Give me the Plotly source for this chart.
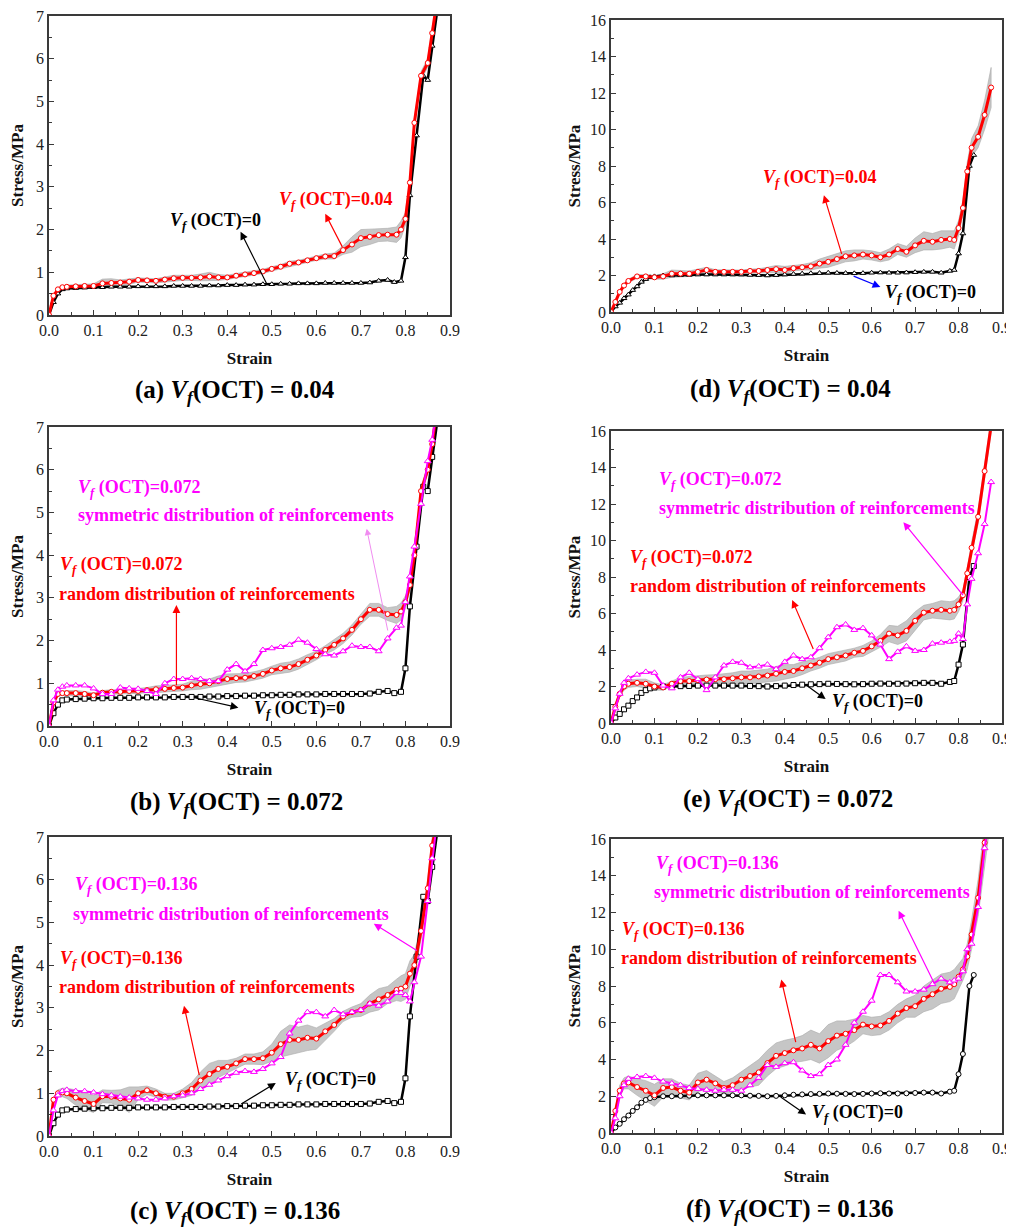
import plotly.graph_objects as go

# ---------------- data ----------------
X_TICKS = [0.0, 0.1, 0.2, 0.3, 0.4, 0.5, 0.6, 0.7, 0.8, 0.9]
Y_TICKS_7 = [0, 1, 2, 3, 4, 5, 6, 7]
Y_TICKS_16 = [0, 2, 4, 6, 8, 10, 12, 14, 16]

STRAIN_7 = [0, 0.01, 0.02, 0.03, 0.04,
            0.06, 0.08, 0.10, 0.12, 0.14, 0.16, 0.18, 0.20, 0.22, 0.24,
            0.26, 0.28, 0.30, 0.32, 0.34, 0.36, 0.38, 0.40, 0.42, 0.44,
            0.46, 0.48, 0.50, 0.52, 0.54, 0.56, 0.58, 0.60, 0.62, 0.64,
            0.66, 0.68, 0.70, 0.72, 0.74, 0.76, 0.78,
            0.79, 0.80, 0.81, 0.82, 0.835, 0.85, 0.86, 0.87]
STRAIN_16 = [0, 0.01, 0.02, 0.03, 0.04,
             0.06, 0.08, 0.10, 0.12, 0.14, 0.16, 0.18, 0.20, 0.22, 0.24,
             0.26, 0.28, 0.30, 0.32, 0.34, 0.36, 0.38, 0.40, 0.42, 0.44,
             0.46, 0.48, 0.50, 0.52, 0.54, 0.56, 0.58, 0.60, 0.62, 0.64,
             0.66, 0.68, 0.70, 0.72, 0.74, 0.76, 0.78,
             0.79, 0.80, 0.81, 0.82, 0.83, 0.845, 0.86, 0.875]

# Vf(OCT)=0 reference curves
ZERO_STRAIN_7 = [0, 0.01, 0.02, 0.03, 0.04,
                 0.06, 0.08, 0.10, 0.12, 0.14, 0.16, 0.18, 0.20, 0.22, 0.24,
                 0.26, 0.28, 0.30, 0.32, 0.34, 0.36, 0.38, 0.40, 0.42, 0.44,
                 0.46, 0.48, 0.50, 0.52, 0.54, 0.56, 0.58, 0.60, 0.62, 0.64,
                 0.66, 0.68, 0.70, 0.72, 0.74, 0.76,
                 0.775, 0.79, 0.80, 0.81, 0.825, 0.84, 0.85, 0.86, 0.875]
ZERO_STRESS_7 = [0, 0.30, 0.50, 0.60, 0.62,
                 0.63, 0.64, 0.65, 0.65, 0.66, 0.66, 0.66, 0.67, 0.67, 0.67,
                 0.67, 0.68, 0.68, 0.68, 0.68, 0.69, 0.69, 0.70, 0.70, 0.71,
                 0.71, 0.72, 0.72, 0.73, 0.73, 0.74, 0.74, 0.74, 0.75, 0.75,
                 0.75, 0.75, 0.75, 0.76, 0.80, 0.82,
                 0.77, 0.80, 1.35, 2.80, 4.20, 5.60, 5.50, 6.30, 7.40]
ZERO_STRAIN_16 = [0, 0.01, 0.02, 0.03, 0.04, 0.05, 0.06, 0.07, 0.08, 0.09, 0.10,
                  0.12, 0.14, 0.16, 0.18, 0.20, 0.22, 0.24, 0.26, 0.28, 0.30,
                  0.32, 0.34, 0.36, 0.38, 0.40, 0.42, 0.44, 0.46, 0.48, 0.50,
                  0.52, 0.54, 0.56, 0.58, 0.60, 0.62, 0.64, 0.66, 0.68, 0.70,
                  0.72, 0.74, 0.76, 0.78,
                  0.79, 0.80, 0.81, 0.825, 0.835]
ZERO_STRESS_16 = [0, 0.30, 0.50, 0.75, 0.95, 1.20, 1.40, 1.65, 1.80, 1.90, 1.95,
                  2.00, 2.00, 2.02, 2.03, 2.05, 2.05, 2.05, 2.05, 2.05, 2.05,
                  2.03, 2.02, 2.00, 2.02, 2.05, 2.08, 2.10, 2.12, 2.13, 2.15,
                  2.14, 2.13, 2.12, 2.13, 2.15, 2.16, 2.15, 2.15, 2.16, 2.18,
                  2.20, 2.20, 2.15, 2.25,
                  2.30, 3.20, 4.30, 8.00, 8.60]

# (a) Vf(OCT)=0.04, 7 MPa scale
A_RANDOM = [0, 0.45, 0.60, 0.65, 0.66,
            0.67, 0.68, 0.68, 0.74, 0.75, 0.76, 0.78, 0.82, 0.81, 0.80,
            0.83, 0.86, 0.87, 0.87, 0.88, 0.90, 0.88, 0.88, 0.92, 0.95,
            0.98, 1.02, 1.08, 1.13, 1.20, 1.23, 1.28, 1.33, 1.37, 1.38,
            1.52, 1.65, 1.80, 1.83, 1.87, 1.88, 1.88,
            2.00, 2.25, 3.10, 4.50, 5.60, 5.90, 6.60, 7.30]
A_SD = [0, 0.03, 0.04, 0.04, 0.04,
        0.04, 0.04, 0.05, 0.10, 0.10, 0.06, 0.06, 0.05, 0.05, 0.05,
        0.06, 0.07, 0.06, 0.06, 0.08, 0.10, 0.07, 0.05, 0.05, 0.05,
        0.05, 0.05, 0.05, 0.05, 0.06, 0.05, 0.05, 0.05, 0.06, 0.07,
        0.10, 0.18, 0.20, 0.18, 0.15, 0.15, 0.18,
        0.20, 0.15, 0.10, 0.10, 0.10, 0.10, 0.10, 0.10]

# (b) Vf(OCT)=0.072, 7 MPa scale
B_RANDOM = [0, 0.55, 0.75, 0.77, 0.77,
            0.77, 0.75, 0.72, 0.78, 0.80, 0.80, 0.82, 0.82, 0.84, 0.86,
            0.87, 0.89, 0.90, 0.95, 0.98, 1.00, 1.05, 1.10, 1.12, 1.13,
            1.17, 1.22, 1.30, 1.35, 1.38, 1.45, 1.55, 1.65, 1.78, 1.90,
            2.05, 2.25, 2.50, 2.72, 2.72, 2.62, 2.60,
            2.68, 2.90, 3.30, 4.00, 5.50, 6.00, 6.60, 7.40]
B_SD = [0, 0.03, 0.05, 0.05, 0.06,
        0.06, 0.06, 0.05, 0.05, 0.05, 0.05, 0.06, 0.06, 0.06, 0.08,
        0.08, 0.08, 0.08, 0.10, 0.12, 0.10, 0.12, 0.12, 0.10, 0.10,
        0.10, 0.10, 0.10, 0.12, 0.12, 0.12, 0.12, 0.10, 0.10, 0.12,
        0.12, 0.12, 0.12, 0.15, 0.15, 0.15, 0.20,
        0.20, 0.15, 0.12, 0.10, 0.10, 0.10, 0.10, 0.10]
B_SYM = [0, 0.60, 0.85, 0.92, 0.95,
         0.95, 0.95, 0.88, 0.75, 0.75, 0.90, 0.88, 0.87, 0.82, 0.75,
         1.00, 1.10, 1.10, 1.12, 1.10, 1.05, 1.05, 1.32, 1.45, 1.28,
         1.45, 1.78, 1.82, 1.85, 1.90, 2.02, 1.95, 1.80, 1.68, 1.65,
         1.75, 1.88, 1.85, 1.85, 1.75, 2.05, 2.30,
         2.35, 2.90, 3.50, 4.20, 5.20, 6.20, 6.70, 7.40]

# (c) Vf(OCT)=0.136, 7 MPa scale
C_RANDOM = [0, 0.85, 1.00, 1.02, 1.00,
            0.90, 0.82, 0.75, 0.93, 0.92, 0.88, 0.85, 1.00, 1.07, 1.00,
            0.92, 0.92, 1.00, 1.10, 1.30, 1.45, 1.57, 1.62, 1.70, 1.80,
            1.80, 1.82, 1.95, 2.15, 2.25, 2.25, 2.30, 2.28, 2.45, 2.60,
            2.80, 2.90, 2.95, 3.10, 3.20, 3.30, 3.42,
            3.45, 3.50, 3.80, 4.00, 4.80, 5.80, 6.80, 7.30]
C_SD = [0, 0.05, 0.08, 0.10, 0.12,
        0.18, 0.20, 0.20, 0.15, 0.15, 0.20, 0.30, 0.15, 0.10, 0.10,
        0.08, 0.08, 0.10, 0.15, 0.20, 0.25, 0.20, 0.15, 0.12, 0.12,
        0.12, 0.15, 0.20, 0.30, 0.35, 0.30, 0.30, 0.25, 0.20, 0.15,
        0.12, 0.12, 0.15, 0.20, 0.25, 0.20, 0.25,
        0.30, 0.30, 0.30, 0.25, 0.20, 0.20, 0.20, 0.20]
C_SYM = [0, 0.60, 0.95, 1.05, 1.08,
         1.05, 1.05, 1.02, 0.98, 0.95, 0.92, 0.90, 0.88, 0.85, 0.85,
         0.88, 0.93, 0.95, 1.00, 1.10, 1.20, 1.30, 1.40, 1.48, 1.52,
         1.50, 1.57, 1.70, 1.85, 2.40, 2.70, 2.90, 2.90, 2.80, 2.95,
         2.85, 2.90, 2.95, 3.10, 3.05, 3.15, 3.35,
         3.35, 3.30, 3.15, 3.60, 4.20, 5.50, 6.50, 7.30]

# (d) Vf(OCT)=0.04, 16 MPa scale
D_RANDOM = [0, 0.55, 1.10, 1.45, 1.70,
            1.95, 1.95, 1.90, 1.95, 2.10, 2.10, 2.10, 2.20, 2.30, 2.20,
            2.20, 2.20, 2.20, 2.25, 2.25, 2.30, 2.35, 2.30, 2.40, 2.45,
            2.50, 2.65, 2.75, 2.90, 3.05, 3.10, 3.15, 3.10, 3.00, 3.15,
            3.45, 3.30, 3.65, 3.90, 3.85, 3.95, 4.00,
            3.95, 4.60, 5.70, 7.70, 9.00, 9.60, 10.80, 12.30]
D_SD = [0, 0.05, 0.10, 0.10, 0.10,
        0.10, 0.10, 0.10, 0.15, 0.20, 0.18, 0.15, 0.15, 0.15, 0.12,
        0.10, 0.10, 0.10, 0.10, 0.12, 0.15, 0.20, 0.20, 0.15, 0.15,
        0.20, 0.25, 0.30, 0.30, 0.30, 0.30, 0.25, 0.25, 0.25, 0.30,
        0.30, 0.30, 0.40, 0.50, 0.45, 0.50, 0.45,
        0.50, 0.40, 0.40, 0.50, 0.50, 0.60, 0.80, 1.10]

# (e) Vf(OCT)=0.072, 16 MPa scale
E_RANDOM = [0, 0.90, 1.60, 2.00, 2.15,
            2.20, 2.15, 2.00, 1.95, 2.15, 2.30, 2.30, 2.35, 2.38, 2.40,
            2.40, 2.45, 2.50, 2.50, 2.55, 2.60, 2.70, 2.80, 2.85, 3.00,
            3.15, 3.30, 3.50, 3.60, 3.70, 3.85, 3.95, 4.20, 4.50, 4.90,
            4.80, 5.05, 5.60, 6.05, 6.15, 6.20, 6.15,
            6.20, 6.50, 7.00, 8.20, 9.60, 11.30, 13.80, 16.30]
E_SD = [0, 0.10, 0.15, 0.20, 0.20,
        0.20, 0.25, 0.20, 0.15, 0.15, 0.20, 0.25, 0.25, 0.25, 0.25,
        0.30, 0.30, 0.35, 0.35, 0.35, 0.35, 0.40, 0.40, 0.35, 0.35,
        0.30, 0.30, 0.30, 0.30, 0.30, 0.25, 0.30, 0.30, 0.35, 0.45,
        0.50, 0.55, 0.50, 0.40, 0.40, 0.50, 0.50,
        0.50, 0.40, 0.30, 0.30, 0.30, 0.40, 0.40, 0.40]
E_SYM = [0, 0.80, 1.60, 2.20, 2.45,
         2.65, 2.80, 2.75, 2.05, 1.90, 2.50, 2.75, 2.40, 1.80, 2.50,
         3.15, 3.35, 3.30, 3.05, 3.10, 3.20, 2.95, 3.35, 3.70, 3.50,
         3.60, 4.10, 4.70, 5.25, 5.40, 5.10, 5.20, 4.80, 4.30, 3.50,
         3.90, 4.20, 3.95, 4.00, 4.35, 4.40, 4.45,
         4.50, 4.90, 4.60, 6.50, 7.90, 9.30, 10.90, 13.20]

# (f) Vf(OCT)=0.136, 16 MPa scale
F_RANDOM = [0, 1.20, 2.30, 2.70, 2.75,
            2.50, 2.30, 2.05, 2.45, 2.50, 2.30, 2.20, 2.75, 2.90, 2.70,
            2.45, 2.60, 2.90, 3.10, 3.30, 3.80, 4.20, 4.35, 4.50, 4.60,
            4.80, 4.60, 5.00, 5.30, 5.40, 5.60, 5.90, 5.80, 5.85, 6.10,
            6.50, 6.80, 6.90, 7.30, 7.55, 7.85, 7.95,
            8.10, 8.50, 8.90, 9.60, 10.80, 12.80, 15.80, 18.50]
F_SD = [0, 0.20, 0.30, 0.30, 0.35,
        0.45, 0.55, 0.60, 0.50, 0.45, 0.40, 0.40, 0.50, 0.50, 0.40,
        0.35, 0.40, 0.45, 0.60, 0.70, 0.70, 0.70, 0.70, 0.65, 0.70,
        0.80, 0.80, 0.90, 0.80, 0.70, 0.60, 0.50, 0.50, 0.50, 0.50,
        0.50, 0.50, 0.60, 0.70, 0.80, 0.80, 0.80,
        0.80, 0.70, 0.60, 0.70, 0.80, 1.00, 1.20, 1.30]
F_SYM = [0, 0.80, 2.00, 2.60, 2.95,
         3.05, 3.10, 3.00, 2.80, 2.70, 2.60, 2.45, 2.40, 2.35, 2.30,
         2.35, 2.35, 2.30, 2.60, 3.00, 3.70, 3.60, 3.80, 3.85, 3.40,
         3.10, 3.20, 3.70, 4.00, 4.80, 6.00, 6.60, 7.20, 8.60, 8.60,
         8.20, 7.70, 7.70, 7.80, 8.10, 8.40, 8.20,
         8.30, 8.40, 8.80, 10.00, 10.30, 12.30, 15.50, 18.00]

for arr in [A_RANDOM, A_SD, B_RANDOM, B_SD, B_SYM, C_RANDOM, C_SD, C_SYM]:
    assert len(arr) == len(STRAIN_7)
for arr in [D_RANDOM, D_SD, E_RANDOM, E_SD, E_SYM, F_RANDOM, F_SD, F_SYM]:
    assert len(arr) == len(STRAIN_16)
assert len(ZERO_STRAIN_7) == len(ZERO_STRESS_7)
assert len(ZERO_STRAIN_16) == len(ZERO_STRESS_16)

# ---------------- styling ----------------
SERIF = "Liberation Serif, Times New Roman, serif"
RED = "#ff0000"
MAG = "#ff00ff"
FRAME = "#3a3a3a"

# the page body has an 8 px margin: work in page pixels and convert
OFF = 8
FW, FH = 1006, 1219


def px(x):
    return (x - OFF) / FW


def py(y):
    return 1 - (y - OFF) / FH


LEFT_X = [px(49), px(450)]
RIGHT_X = [px(611), px(1002)]

panels = [
    dict(n=1, xd=LEFT_X, yd=(16, 315), ymax=7, s=STRAIN_7, r=A_RANDOM, sd=A_SD, sym=None,
         zs=ZERO_STRAIN_7, zv=ZERO_STRESS_7, zm="triangle-up", letter="a", val="0.04"),
    dict(n=2, xd=LEFT_X, yd=(427, 726), ymax=7, s=STRAIN_7, r=B_RANDOM, sd=B_SD, sym=B_SYM,
         zs=ZERO_STRAIN_7, zv=ZERO_STRESS_7, zm="square", letter="b", val="0.072"),
    dict(n=3, xd=LEFT_X, yd=(837, 1136), ymax=7, s=STRAIN_7, r=C_RANDOM, sd=C_SD, sym=C_SYM,
         zs=ZERO_STRAIN_7, zv=ZERO_STRESS_7, zm="square", letter="c", val="0.136"),
    dict(n=4, xd=RIGHT_X, yd=(20, 312), ymax=16, s=STRAIN_16, r=D_RANDOM, sd=D_SD, sym=None,
         zs=ZERO_STRAIN_16, zv=ZERO_STRESS_16, zm="triangle-up", letter="d", val="0.04"),
    dict(n=5, xd=RIGHT_X, yd=(431, 723), ymax=16, s=STRAIN_16, r=E_RANDOM, sd=E_SD, sym=E_SYM,
         zs=ZERO_STRAIN_16, zv=ZERO_STRESS_16, zm="square", letter="e", val="0.072"),
    dict(n=6, xd=RIGHT_X, yd=(839, 1133), ymax=16, s=STRAIN_16, r=F_RANDOM, sd=F_SD, sym=F_SYM,
         zs=ZERO_STRAIN_16, zv=ZERO_STRESS_16, zm="circle", letter="f", val="0.136"),
]

fig = go.Figure()
layout = {}


def ref(n):
    return ("x" if n == 1 else f"x{n}"), ("y" if n == 1 else f"y{n}")


for p in panels:
    n = p["n"]
    xr, yr = ref(n)
    s = p["s"]
    upper = [m + d for m, d in zip(p["r"], p["sd"])]
    lower = [m - d for m, d in zip(p["r"], p["sd"])]
    fig.add_trace(go.Scatter(x=s + s[::-1], y=upper + lower[::-1], fill="toself",
                             fillcolor="#c6c6c6", line=dict(color="#a9a9a9", width=0.6),
                             mode="lines", hoverinfo="skip", showlegend=False,
                             xaxis=xr, yaxis=yr))
    fig.add_trace(go.Scatter(x=p["zs"], y=p["zv"], mode="lines+markers",
                             line=dict(color="black", width=2.5),
                             marker=dict(symbol=p["zm"], size=5, color="white",
                                         line=dict(color="black", width=1)),
                             showlegend=False, xaxis=xr, yaxis=yr))
    fig.add_trace(go.Scatter(x=s, y=p["r"], mode="lines+markers",
                             line=dict(color=RED, width=3),
                             marker=dict(symbol="circle", size=5, color="white",
                                         line=dict(color=RED, width=1)),
                             showlegend=False, xaxis=xr, yaxis=yr))
    if p["sym"] is not None:
        fig.add_trace(go.Scatter(x=s, y=p["sym"], mode="lines+markers",
                                 line=dict(color=MAG, width=2),
                                 marker=dict(symbol="triangle-up", size=6, color="white",
                                             line=dict(color=MAG, width=1)),
                                 showlegend=False, xaxis=xr, yaxis=yr))

    xkey = "xaxis" if n == 1 else f"xaxis{n}"
    ykey = "yaxis" if n == 1 else f"yaxis{n}"
    ytop, ybot = p["yd"]
    yticks = Y_TICKS_7 if p["ymax"] == 7 else Y_TICKS_16
    layout[xkey] = dict(
        domain=p["xd"], anchor=yr, range=[0, 0.9], tickvals=X_TICKS,
        ticktext=[f"{v:.1f}" for v in X_TICKS],
        ticks="inside", ticklen=5, tickwidth=1, tickcolor=FRAME,
        minor=dict(ticks="inside", ticklen=3, dtick=0.05, tickcolor=FRAME),
        showline=True, mirror=True, linecolor=FRAME, linewidth=1.5,
        showgrid=False, zeroline=False, ticklabeloverflow="allow",
        tickfont=dict(family=SERIF, size=16, color="#222"),
        title=dict(text="<b>Strain</b>", standoff=14,
                   font=dict(family=SERIF, size=17, color="#111")),
        automargin=False,
    )
    layout[ykey] = dict(
        domain=[py(ybot), py(ytop)], anchor=xr, range=[0, p["ymax"]],
        tickvals=yticks, ticks="inside", ticklen=5, tickwidth=1, tickcolor=FRAME,
        minor=dict(ticks="inside", ticklen=3, dtick=(0.5 if p["ymax"] == 7 else 1),
                   tickcolor=FRAME),
        showline=True, mirror=True, linecolor=FRAME, linewidth=1.5,
        showgrid=False, zeroline=False, ticklabeloverflow="allow",
        tickfont=dict(family=SERIF, size=16, color="#222"),
        title=dict(text="<b>Stress/MPa</b>", standoff=(9 if p["ymax"] == 7 else 5),
                   font=dict(family=SERIF, size=17, color="#111")),
        automargin=False,
    )

VF = "<i>V</i><sub><i>f</i></sub>"
annotations = []


def label(n, x, y, text, color):
    xr, yr = ref(n)
    annotations.append(dict(xref=xr, yref=yr, x=x, y=y, text=f"<b>{text}</b>",
                            showarrow=False, xanchor="left", yanchor="middle",
                            font=dict(family=SERIF, size=18, color=color)))


def arrow(n, tail, head, color, width=1.2):
    xr, yr = ref(n)
    annotations.append(dict(xref=xr, yref=yr, axref=xr, ayref=yr,
                            x=head[0], y=head[1], ax=tail[0], ay=tail[1],
                            text="", showarrow=True, arrowhead=2, arrowsize=1.3,
                            arrowwidth=width, arrowcolor=color))


SYM_TXT = "symmetric distribution of reinforcements"
RND_TXT = "random distribution of reinforcements"

# (a)
label(1, 0.512, 2.69, f"{VF} (OCT)=0.04", RED)
label(1, 0.267, 2.18, f"{VF} (OCT)=0", "black")
arrow(1, (0.66, 1.56), (0.62, 2.37), RED)
arrow(1, (0.49, 0.70), (0.43, 1.95), "black")
# (b)
label(2, 0.061, 5.56, f"{VF} (OCT)=0.072", MAG)
label(2, 0.061, 4.93, SYM_TXT, MAG)
label(2, 0.020, 3.75, f"{VF} (OCT)=0.072", RED)
label(2, 0.018, 3.10, RND_TXT, RED)
label(2, 0.455, 0.39, f"{VF} (OCT)=0", "black")
arrow(2, (0.286, 0.92), (0.286, 2.83), RED)
arrow(2, (0.761, 2.20), (0.713, 4.62), "#f08cf0", 1)
arrow(2, (0.323, 0.67), (0.425, 0.43), "black")
# (c)
label(3, 0.054, 5.87, f"{VF} (OCT)=0.136", MAG)
label(3, 0.050, 5.20, SYM_TXT, MAG)
label(3, 0.020, 4.13, f"{VF} (OCT)=0.136", RED)
label(3, 0.018, 3.48, RND_TXT, RED)
label(3, 0.526, 1.31, f"{VF} (OCT)=0", "black")
arrow(3, (0.338, 1.39), (0.303, 3.05), RED)
arrow(3, (0.829, 4.32), (0.729, 4.97), MAG)
arrow(3, (0.428, 0.73), (0.509, 1.24), "black")
# (d)
label(4, 0.346, 7.34, f"{VF} (OCT)=0.04", RED)
label(4, 0.627, 1.04, f"{VF} (OCT)=0", "black")
arrow(4, (0.532, 3.10), (0.49, 6.40), RED)
arrow(4, (0.555, 2.00), (0.62, 1.37), "blue")
# (e)
label(5, 0.105, 13.3, f"{VF} (OCT)=0.072", MAG)
label(5, 0.105, 11.8, SYM_TXT, MAG)
label(5, 0.040, 9.0, f"{VF} (OCT)=0.072", RED)
label(5, 0.038, 7.5, RND_TXT, RED)
label(5, 0.505, 1.13, f"{VF} (OCT)=0", "black")
arrow(5, (0.467, 3.97), (0.417, 6.74), RED)
arrow(5, (0.813, 6.92), (0.673, 11.0), MAG)
arrow(5, (0.448, 2.10), (0.494, 1.31), "black")
# (f)
label(6, 0.099, 14.63, f"{VF} (OCT)=0.136", MAG)
label(6, 0.095, 13.14, SYM_TXT, MAG)
label(6, 0.021, 11.0, f"{VF} (OCT)=0.136", RED)
label(6, 0.019, 9.5, RND_TXT, RED)
label(6, 0.458, 1.07, f"{VF} (OCT)=0", "black")
arrow(6, (0.426, 4.86), (0.392, 8.35), RED)
arrow(6, (0.746, 8.05), (0.662, 12.1), MAG)
arrow(6, (0.387, 2.02), (0.449, 1.00), "black")

# captions (page pixel centres)
CAPTION_POS = {"a": (235, 392), "b": (236, 803), "c": (235, 1212),
               "d": (790, 390), "e": (788, 801), "f": (790, 1210)}
for p in panels:
    cx, cy = CAPTION_POS[p["letter"]]
    annotations.append(dict(xref="paper", yref="paper", x=px(cx), y=py(cy),
                            text=f"<b>({p['letter']}) {VF}(OCT) = {p['val']}</b>",
                            showarrow=False, xanchor="center", yanchor="middle",
                            font=dict(family=SERIF, size=25, color="black")))

fig.update_layout(
    width=FW, height=FH, margin=dict(l=0, r=0, t=0, b=0),
    paper_bgcolor="white", plot_bgcolor="white", showlegend=False,
    annotations=annotations, **layout,
)

fig.write_html("out.html")
